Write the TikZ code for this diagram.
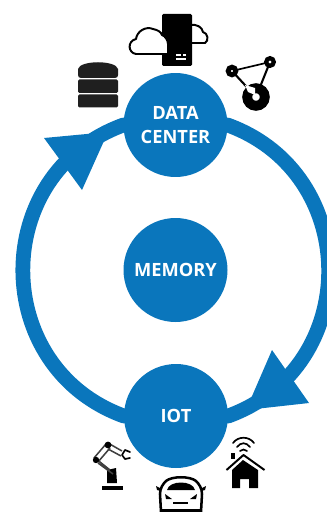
\documentclass[tikz,border=0pt]{standalone}
\usepackage{fontspec}
\setmainfont{Open Sans}
\definecolor{hubblue}{HTML}{0A76BC}
\tikzset{
  hub/.style={circle,fill=hubblue,minimum size=5.2cm,inner sep=0pt,align=center,text=white,
    font=\fontsize{26}{34}\selectfont\bfseries},
  ringline/.style={draw=hubblue,line width=21pt,line cap=round},
  icon/.style={fill=black},
  iconline/.style={draw=black,line width=2.8pt,line cap=round,line join=round}
}
\begin{document}
\begin{tikzpicture}[scale=0.05]
\useasboundingbox (0,0) rectangle (326,-512);
% hubs
\node [hub] (mem) at (175.5,-270) {MEMORY};
\node [hub] (dc) at (175.5,-125) {DATA\\CENTER};
\node [hub] (iot) at (176,-416) {IOT};
% ring
\draw [ringline] (dc.east) .. controls +(-20:143) and +(20:143) .. (iot.east);
\draw [ringline] (iot.west) .. controls +(160:143) and +(200:143) .. (dc.west);
\fill [hubblue] (44,-138) -- (82,-190) -- (108,-132);
\fill [hubblue] (272,-350) -- (309,-403) -- (246,-410);
% database
\fill [black!88] (78,-69) .. controls (80,-60) and (116,-60) .. (118,-69) -- (118,-75)
  .. controls (118,-77) and (117,-78) .. (115,-78) -- (81,-78) .. controls (79,-78) and (78,-77) .. (78,-75) -- cycle;
\fill [black!88,rounded corners=2pt] (78,-79.5) rectangle (118,-93);
\fill [black!88,rounded corners=2pt] (78,-94.5) rectangle (118,-107.5);
% server and cloud
\draw [iconline,fill=white] (190,-43) -- (205,-43) .. controls (209,-41) and (208,-33) .. (203,-32)
  .. controls (202,-27) and (197,-24) .. (190,-25);
\fill [icon,rounded corners=2pt] (162,-14) rectangle (192,-66);
\draw [iconline,fill=white] (168,-54) -- (136,-54) .. controls (128,-53) and (127,-41) .. (136,-39)
  .. controls (137,-31) and (146,-26) .. (153,-29) .. controls (158,-30) and (161,-32) .. (162,-35)
  .. controls (165,-36) and (168,-40) .. (168,-44) -- cycle;
\fill [white] (176,-54) rectangle (181,-56.5);
\fill [white] (176,-58) rectangle (186,-60);
\fill [white] (183,-54) rectangle (186,-56.5);
% graph
\draw [iconline,line width=2.4pt] (232,-71) -- (270,-62);
\draw [iconline,line width=3pt] (232,-71) -- (256,-97);
\draw [iconline,line width=3pt] (270,-62) -- (256,-97);
\draw [black,line width=7pt,fill=white] (232,-71) circle (3.8);
\draw [black,line width=6pt,fill=white] (270,-62) circle (3.8);
\draw [black,line width=14pt,fill=white] (256,-97) circle (8.8);
\fill [white] (245,-85) -- (255,-88) -- (255,-95) -- (248,-92);
% robot
\fill [icon] (102,-486) rectangle (123,-489.5);
\fill [icon] (107,-483) -- (107,-470) -- (116,-468) -- (117,-483);
\draw [black!75,line width=2.2pt] (95,-458) -- (110,-470) (98,-463) -- (113,-474);
\draw [black!75,line width=2.2pt] (94,-458) -- (106,-444) (98,-462) -- (110,-448);
\draw [black!75,line width=2.2pt] (108,-443) -- (122,-451) (108,-449) -- (121,-456);
\fill [icon] (108,-445) circle (3.4);
\fill [icon] (96,-460) circle (3.2);
\draw [iconline,line width=2.4pt] (130,-452) -- (125,-450) -- (122,-455) -- (125,-459) -- (130,-458);
% car
\draw [black,line width=3.6pt,fill=white] (161,-512) -- (160,-494) .. controls (160,-488) and (163,-484) .. (166,-481)
  .. controls (172,-476) and (190,-476) .. (196,-481) .. controls (199,-484) and (202,-488) .. (202,-494) -- (201,-512);
\fill [icon] (167,-490) .. controls (169,-480) and (193,-480) .. (195,-490) -- cycle;
\fill [icon] (156,-486) -- (162,-489) -- (161,-491) -- (157,-490);
\fill [icon] (206,-486) -- (200,-489) -- (201,-491) -- (205,-490);
\fill [icon] (165,-494) -- (172,-499) -- (166,-499);
\fill [icon] (197,-494) -- (190,-499) -- (196,-499);
\fill [icon] (173,-502) rectangle (188,-504);
\fill [icon] (160,-509) rectangle (202,-512);
% house
\fill [icon] (232,-470) -- (243,-460) -- (258,-470) -- (258,-488) -- (249,-488) -- (249,-479) -- (240,-479) -- (240,-488) -- (232,-488);
\draw [iconline,line cap=butt] (226.5,-470) -- (243.5,-455) -- (264.5,-470);
\fill [icon] (231,-453) rectangle (235,-459);
\draw [iconline,line width=2.4pt] (233,-443) .. controls (238,-436) and (249,-436) .. (254,-443);
\draw [iconline,line width=2.4pt] (237,-447) .. controls (241,-442) and (246,-442) .. (250,-447);
\draw [iconline,line width=2.4pt] (240,-451) .. controls (242,-449) and (245,-449) .. (247,-451);
\end{tikzpicture}
\end{document}
